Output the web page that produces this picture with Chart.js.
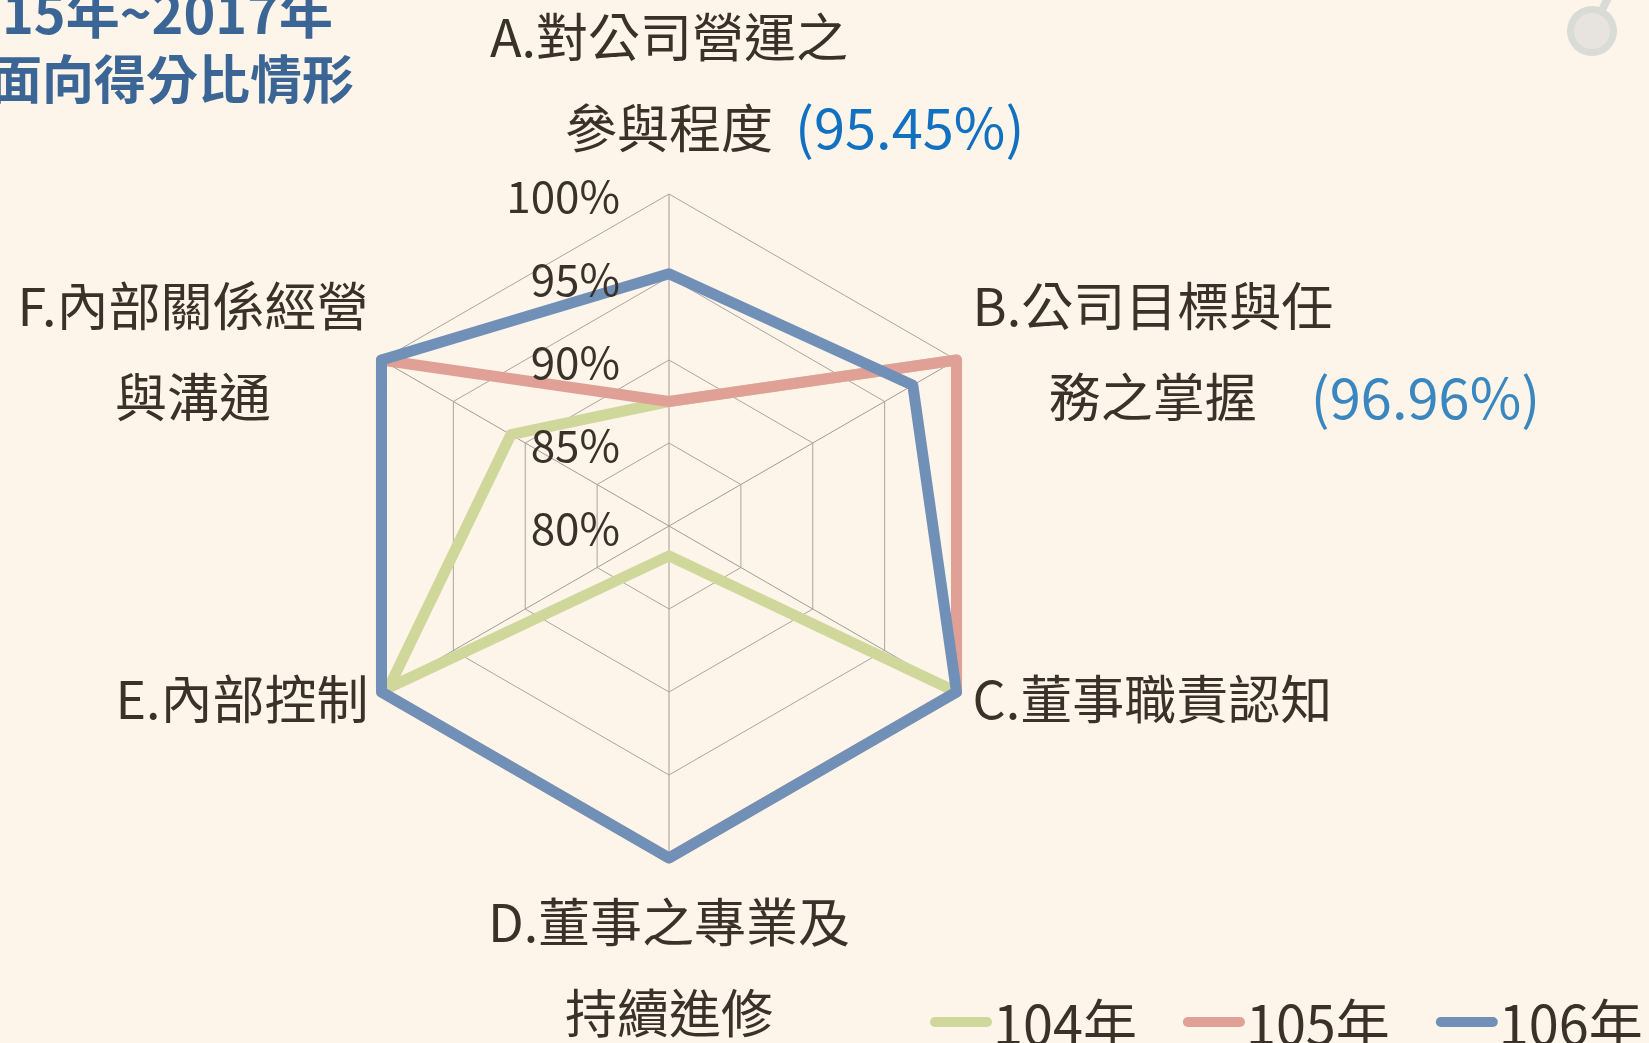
<!DOCTYPE html>
<html>
<head>
<meta charset="utf-8">
<script src="https://cdn.jsdelivr.net/npm/chart.js@4/dist/chart.umd.min.js"></script>
<style>
html,body{margin:0;padding:0;background:#fdf4ea;overflow:hidden}
#wrap{position:relative;width:1649px;height:1043px}
canvas{display:block}
</style>
</head>
<body>
<div id="wrap"><canvas id="c" width="1649" height="1043"></canvas></div>
<script>
// ---- data ----
const categories = [
  ['A.對公司營運之', '參與程度'],
  ['B.公司目標與任', '務之掌握'],
  ['C.董事職責認知'],
  ['D.董事之專業及', '持續進修'],
  ['E.內部控制'],
  ['F.內部關係經營', '與溝通']
];
const seriesLabels = ['104年', '105年', '106年'];
const series104 = [87.5, 100, 100, 81.8, 99.5, 91.0];
const series105 = [87.5, 100, 100, 100, 100, 100];
const series106 = [95.2, 96.96, 100, 100, 100, 100];
const tickMin = 80, tickMax = 100, tickStep = 5;
const titleLines = ['15年~2017年', '面向得分比情形'];
const annotationTexts = { 0: '(95.45%)', 1: '(96.96%)' };

// ---- styles ----
const FONT = '"Noto Sans CJK TC","Noto Sans",sans-serif';
const TEXT = '#3a3128';
const seriesColors = ['#d0d79b', '#e0a096', '#7090b7'];
const annotationStyle = { 0: { color: '#1170c0', gap: 22 }, 1: { color: '#3a87c0', gap: 54 } };

const overlay = {
  id: 'overlay',
  afterDatasetsDraw(chart) {
    const ctx = chart.ctx, s = chart.scales.r;
    ctx.save();
    // tick labels
    ctx.font = '44px ' + FONT;
    ctx.fillStyle = TEXT;
    ctx.textAlign = 'right';
    ctx.textBaseline = 'middle';
    s.ticks.forEach(t => {
      const d = s.getDistanceFromCenterForValue(t.value);
      ctx.fillText(t.value + '%', s.xCenter - 49, s.yCenter - d + 2);
    });
    // category labels
    const lh = 91;
    categories.forEach((lines, i) => {
      ctx.font = '52px ' + FONT;
      const p = s.getPointPosition(i, s.drawingArea);
      const a = s.getIndexAngle(i);
      const sx = Math.sin(a), cy = Math.cos(a);
      const widths = lines.map(l => ctx.measureText(l).width);
      const bw = Math.max(...widths);
      let cx, ys = [];
      if (Math.abs(sx) < 0.1) {
        cx = p.x;
        if (cy > 0) {
          lines.forEach((l, k) => ys.push(p.y - 66 - (lines.length - 1 - k) * lh));
        } else {
          lines.forEach((l, k) => ys.push(p.y + 64 + k * lh));
        }
      } else {
        cx = sx > 0 ? p.x + 16 + bw / 2 : p.x - 13 - bw / 2;
        const mid = p.y + (cy > 0 ? -8 : 7);
        lines.forEach((l, k) => ys.push(mid + (k - (lines.length - 1) / 2) * lh));
      }
      ctx.textAlign = 'center';
      ctx.fillStyle = TEXT;
      lines.forEach((l, k) => ctx.fillText(l, cx, ys[k]));
      if (annotationTexts[i]) {
        const k = lines.length - 1;
        const st = annotationStyle[i];
        ctx.font = '56px ' + FONT;
        ctx.textAlign = 'left';
        ctx.fillStyle = st.color;
        ctx.fillText(annotationTexts[i], cx + widths[k] / 2 + st.gap, ys[k]);
      }
    });
    ctx.restore();
  },
  afterDraw(chart) {
    const ctx = chart.ctx;
    ctx.save();
    // title (cut off at the left edge)
    ctx.fillStyle = '#3b6595';
    ctx.textAlign = 'left';
    ctx.textBaseline = 'alphabetic';
    ctx.font = 'bold 54px ' + FONT;
    ctx.fillText(titleLines[0], 2, 34);
    ctx.font = 'bold 52px ' + FONT;
    ctx.fillText(titleLines[1], -10, 99);
    // decoration at top right
    ctx.strokeStyle = '#d9dbd6';
    ctx.lineWidth = 8;
    ctx.lineCap = 'round';
    ctx.beginPath(); ctx.moveTo(1603, 8); ctx.lineTo(1610, -6); ctx.stroke();
    ctx.fillStyle = '#d9dbd6';
    ctx.beginPath(); ctx.arc(1592, 31, 25, 0, Math.PI * 2); ctx.fill();
    ctx.fillStyle = '#e7e4df';
    ctx.beginPath(); ctx.arc(1592, 31, 18, 0, Math.PI * 2); ctx.fill();
    // legend
    ctx.font = '54px ' + FONT;
    ctx.textBaseline = 'middle';
    let x = 930;
    const y = 1022;
    chart.data.datasets.forEach(ds => {
      ctx.strokeStyle = ds.borderColor;
      ctx.lineWidth = 10;
      ctx.lineCap = 'round';
      ctx.beginPath(); ctx.moveTo(x + 5, y); ctx.lineTo(x + 57, y); ctx.stroke();
      ctx.fillStyle = TEXT;
      ctx.fillText(ds.label, x + 63, y + 2);
      x += 63 + ctx.measureText(ds.label).width + 46;
    });
    ctx.restore();
  }
};

const seriesData = [series104, series105, series106];
new Chart(document.getElementById('c'), {
  type: 'radar',
  data: {
    labels: categories,
    datasets: seriesData.map((d, i) => ({
      label: seriesLabels[i],
      data: d,
      borderColor: seriesColors[i],
      backgroundColor: 'transparent',
      fill: false,
      borderWidth: 11,
      pointRadius: 0,
      pointHoverRadius: 0,
      borderJoinStyle: 'round',
      borderCapStyle: 'round',
      order: 3 - i
    }))
  },
  options: {
    responsive: false,
    devicePixelRatio: 1,
    animation: false,
    layout: { padding: { left: 337, top: 194, right: 648, bottom: 185 } },
    scales: {
      r: {
        min: tickMin, max: tickMax,
        ticks: { display: false, stepSize: tickStep },
        pointLabels: { display: false },
        grid: { color: '#aca59d', lineWidth: 1 },
        angleLines: { color: '#a39b93', lineWidth: 1 }
      }
    },
    plugins: { legend: { display: false }, tooltip: { enabled: false } }
  },
  plugins: [overlay]
});
</script>
</body>
</html>
